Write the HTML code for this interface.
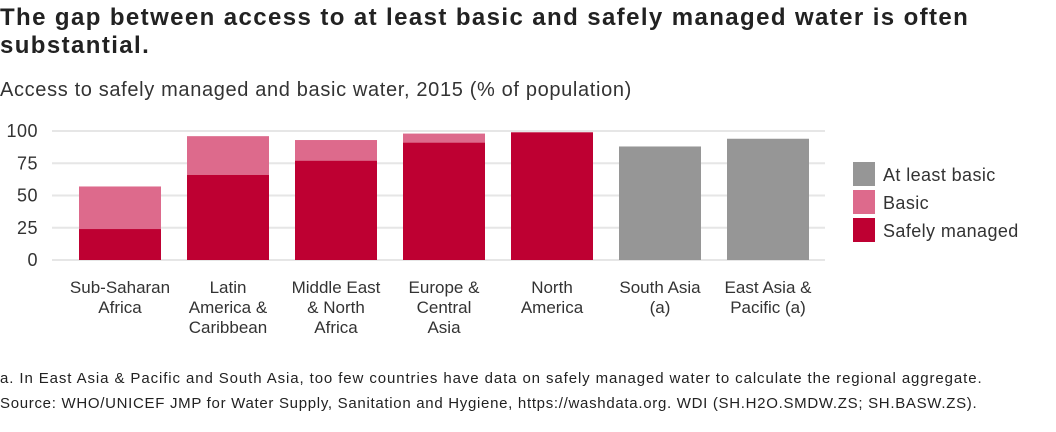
<!DOCTYPE html>
<html><head><meta charset="utf-8"><style>
body{margin:0;width:1056px;height:432px;background:#fff;font-family:"Liberation Sans",sans-serif;color:#222;overflow:hidden}
.t{position:absolute;left:0;top:4px;font-size:24px;font-weight:bold;line-height:28px;width:1050px;letter-spacing:1.4px}
.s{position:absolute;left:0;top:79px;font-size:20px;color:#333;letter-spacing:0.65px}
.f{position:absolute;left:0;font-size:15px;color:#222}
</style></head><body>
<div class="t">The gap between access to at least basic and safely managed water is often<br>substantial.</div>
<div class="s">Access to safely managed and basic water, 2015 (% of population)</div>
<svg id="c" width="1056" height="432" style="position:absolute;left:0;top:0"></svg>
<div class="f" style="top:370px;letter-spacing:0.9px">a. In East Asia &amp; Pacific and South Asia, too few countries have data on safely managed water to calculate the regional aggregate.</div>
<div class="f" style="top:395px;letter-spacing:0.7px">Source: WHO/UNICEF JMP for Water Supply, Sanitation and Hygiene, https://washdata.org. WDI (SH.H2O.SMDW.ZS; SH.BASW.ZS).</div>
<script>
const categories=[["Sub-Saharan","Africa"],["Latin","America &","Caribbean"],["Middle East","& North","Africa"],["Europe &","Central","Asia"],["North","America"],["South Asia","(a)"],["East Asia &","Pacific (a)"]];
const safely=[24,66,77,91,99,null,null];
const atLeastBasic=[57,96,93,98,99,88,94];
const yTicks=[0,25,50,75,100];
const legendLabels=["At least basic","Basic","Safely managed"];
const colors={safe:"#be0032",basic:"#dd6a8c",gray:"#969696"};
const svg=document.getElementById('c');const NS="http://www.w3.org/2000/svg";
function mk(t,a,p){const e=document.createElementNS(NS,t);for(const k in a)e.setAttribute(k,a[k]);(p||svg).appendChild(e);return e;}
const y=v=>260-v*1.29;
const x0=66,step=108,bw=82;const xc=i=>x0+step*(i+0.5);
yTicks.forEach(v=>{const l=mk('line',{x1:52,x2:825,y1:y(v),y2:y(v),stroke:'#e6e6e6','stroke-width':2});

const t=mk('text',{x:38,y:y(v)+6,'text-anchor':'end','font-size':18,fill:'#333','letter-spacing':0.5});t.textContent=v;
});
categories.forEach((c,i)=>{const cx=xc(i),xl=cx-bw/2;
if(safely[i]==null){const r=mk('rect',{x:xl,y:y(atLeastBasic[i]),width:bw,height:y(0)-y(atLeastBasic[i]),fill:colors.gray});
}
else{const b=mk('rect',{x:xl,y:y(atLeastBasic[i]),width:bw,height:y(safely[i])-y(atLeastBasic[i]),fill:colors.basic});

const s=mk('rect',{x:xl,y:y(safely[i]),width:bw,height:y(0)-y(safely[i]),fill:colors.safe});
}
const t=mk('text',{x:cx,y:293,'text-anchor':'middle','font-size':17,fill:'#333'});

c.forEach((ln,j)=>{const ts=mk('tspan',{x:cx,dy:j?20:0},t);ts.textContent=ln;});});
const lc=[colors.gray,colors.basic,colors.safe];
legendLabels.forEach((l,i)=>{const g=mk('g',{});
mk('rect',{x:853,y:162+i*28,width:22,height:24,fill:lc[i]},g);
const t=mk('text',{x:883,y:181+i*28,'font-size':18,fill:'#333','letter-spacing':0.4},g);t.textContent=l;});
</script>
</body></html>
